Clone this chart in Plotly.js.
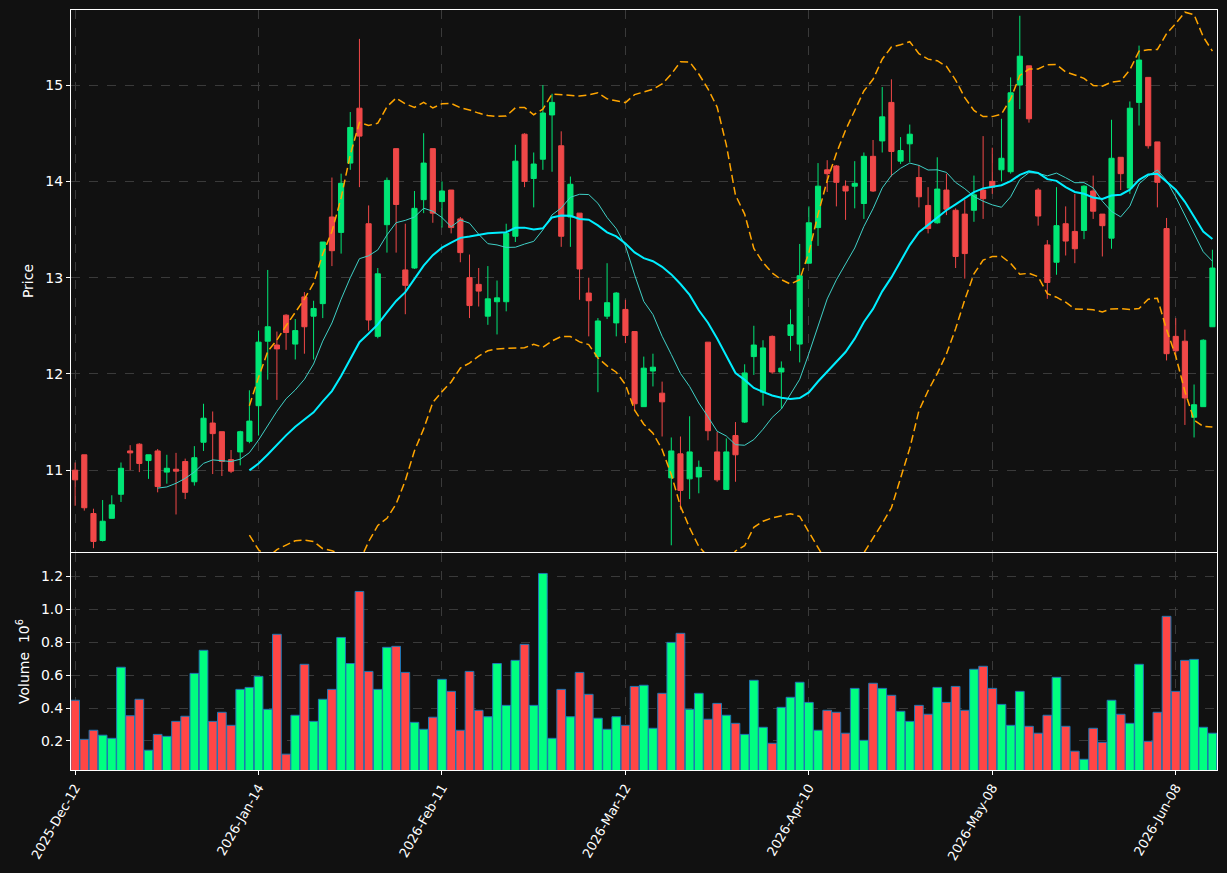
<!DOCTYPE html>
<html>
<head>
<meta charset="utf-8">
<script src="https://cdn.plot.ly/plotly-3.0.1.min.js"></script>
<style>html,body{margin:0;padding:0;background:#111111;}#chart{width:1227px;height:873px;}</style>
</head>
<body>
<div id="chart"></div>
<script>
// Tick labels (every 20 trading sessions)
const tickIdx = [0, 20, 40, 60, 80, 100, 120];
const tickLabels = ["2025-Dec-12", "2026-Jan-14", "2026-Feb-11", "2026-Mar-12", "2026-Apr-10", "2026-May-08", "2026-Jun-08"];

// OHLC values
const openP = [11.00,11.16,10.55,10.27,10.50,10.75,11.20,11.27,11.10,11.20,
 10.98,11.01,11.09,10.88,11.29,11.49,11.40,11.11,11.19,11.30,
 11.67,12.34,12.30,12.61,12.31,12.80,12.60,12.73,13.63,13.47,
 14.19,14.76,13.56,12.39,13.55,14.34,13.08,13.10,13.81,14.34,
 13.79,13.91,13.61,13.00,12.93,12.60,12.75,12.75,13.43,14.49,
 14.03,14.23,14.69,14.37,13.63,13.67,12.84,12.18,12.60,12.53,
 12.67,12.44,11.66,12.03,11.80,10.92,11.17,10.91,10.93,12.33,
 11.19,10.80,11.36,11.50,12.18,11.81,12.39,12.02,12.40,12.31,
 13.15,13.52,14.12,14.16,13.95,13.95,13.77,14.26,14.42,14.82,
 14.21,14.39,14.04,13.75,13.57,13.91,13.70,13.66,13.70,13.91,
 14.00,14.12,14.10,15.00,15.20,13.91,13.34,13.16,13.56,13.48,
 13.49,13.90,13.66,13.41,14.25,13.93,14.82,15.08,14.41,13.51,
 12.39,12.34,11.55,11.66,12.49];
const highP = [11.08,11.16,10.60,10.69,10.74,11.08,11.26,11.28,11.16,11.22,
 11.16,11.18,11.12,11.25,11.69,11.61,11.40,11.21,11.41,11.83,
 12.45,13.08,12.44,12.62,12.57,12.85,12.76,13.37,14.04,14.08,
 14.72,15.48,13.75,13.10,14.04,14.34,13.56,13.90,14.50,14.34,
 14.00,13.91,13.63,13.24,13.10,13.12,12.97,13.56,14.38,14.50,
 14.30,15.00,14.91,14.52,14.05,13.67,13.00,12.58,13.15,12.85,
 12.77,12.44,12.18,12.21,11.92,11.34,11.35,11.56,11.10,12.33,
 11.40,11.33,11.50,12.10,12.50,12.35,12.40,12.13,12.67,13.35,
 13.74,14.19,14.22,14.17,14.01,14.21,14.30,14.43,14.98,15.06,
 14.46,14.59,14.17,13.94,14.25,14.08,13.72,13.81,14.06,14.47,
 14.35,14.65,15.08,15.72,15.20,13.93,13.39,13.94,13.74,13.87,
 13.96,14.06,13.66,14.64,14.25,14.83,15.41,15.08,14.41,13.62,
 12.58,12.46,11.89,12.36,13.29];
const lowP = [10.63,10.58,10.19,10.26,10.50,10.67,11.00,10.98,10.91,10.77,
 10.86,10.54,10.70,10.84,11.20,10.96,10.94,10.97,11.05,11.28,
 11.36,11.94,11.73,12.25,12.15,12.21,12.15,12.58,13.12,13.25,
 14.12,13.94,12.45,12.37,13.26,13.26,12.62,13.09,13.67,13.57,
 13.52,13.46,13.16,12.58,12.70,12.51,12.41,12.65,13.37,13.94,
 13.73,14.12,14.10,13.32,13.32,12.77,12.39,11.81,12.57,12.39,
 12.32,11.62,11.66,11.87,11.35,10.22,10.59,10.70,10.76,11.31,
 10.88,10.80,10.88,11.49,11.99,11.67,12.00,11.64,12.24,12.12,
 13.15,13.33,13.89,13.74,13.60,13.72,13.61,13.89,14.30,14.05,
 14.18,14.20,13.73,13.46,13.56,13.65,13.10,12.99,13.58,13.61,
 13.87,14.00,14.08,14.75,14.61,13.54,12.78,13.03,13.23,13.15,
 13.40,13.61,13.22,13.30,13.91,13.87,14.58,14.34,13.73,12.14,
 12.18,11.47,11.34,11.66,12.49];
const closeP = [10.90,10.61,10.26,10.47,10.64,11.02,11.18,11.07,11.16,10.83,
 11.02,10.99,10.77,11.13,11.54,11.38,11.09,10.99,11.40,11.51,
 12.33,12.49,12.26,12.43,12.45,12.49,12.68,13.37,13.28,13.98,
 14.56,14.47,12.56,13.04,14.01,13.76,12.92,13.72,14.19,13.67,
 13.90,13.52,13.26,12.71,12.86,12.78,12.79,13.46,14.21,14.00,
 14.18,14.71,14.82,13.43,13.97,13.09,12.76,12.55,12.74,12.84,
 12.40,11.69,12.06,12.07,11.71,11.20,10.79,11.19,11.03,11.41,
 10.90,11.19,11.16,12.01,12.30,12.27,12.02,12.06,12.51,13.02,
 13.57,13.95,14.08,13.99,13.90,13.98,14.26,13.90,14.67,14.31,
 14.32,14.49,13.84,13.51,13.92,13.71,13.22,13.25,13.86,13.82,
 13.94,14.24,14.92,15.30,14.65,13.64,12.95,13.54,13.38,13.30,
 13.95,13.69,13.54,14.24,14.08,14.76,15.26,14.37,13.99,12.21,
 12.24,11.75,11.68,12.35,13.10];
// Volume in millions
const volumeM = [0.447,0.21,0.265,0.235,0.216,0.647,0.353,0.453,0.144,0.24,
 0.228,0.319,0.35,0.61,0.75,0.319,0.374,0.295,0.513,0.525,
 0.592,0.392,0.847,0.12,0.356,0.665,0.319,0.453,0.513,0.828,
 0.67,1.107,0.622,0.513,0.768,0.774,0.616,0.313,0.271,0.344,
 0.574,0.501,0.265,0.622,0.386,0.347,0.67,0.416,0.689,0.786,
 0.416,1.216,0.216,0.513,0.347,0.616,0.483,0.338,0.271,0.347,
 0.295,0.531,0.538,0.277,0.489,0.798,0.853,0.392,0.489,0.332,
 0.428,0.356,0.307,0.24,0.568,0.283,0.186,0.404,0.465,0.556,
 0.434,0.265,0.386,0.374,0.247,0.519,0.204,0.55,0.519,0.477,
 0.38,0.319,0.416,0.362,0.525,0.434,0.531,0.386,0.635,0.653,
 0.519,0.422,0.295,0.501,0.289,0.247,0.356,0.586,0.289,0.138,
 0.089,0.277,0.192,0.447,0.362,0.307,0.665,0.198,0.374,0.956,
 0.501,0.689,0.695,0.283,0.247];

const UP = '#00e676', DOWN = '#f04848';
const VUP = '#00ff80', VDOWN = '#ff4646';

const xs = closeP.map((_, i) => i);

function sma(arr, n) {
  return arr.map((_, i) => {
    if (i < n - 1) return null;
    let s = 0; for (let k = i - n + 1; k <= i; k++) s += arr[k];
    return s / n;
  });
}
function rollStd(arr, n) {
  const m = sma(arr, n);
  return arr.map((_, i) => {
    if (i < n - 1) return null;
    let s = 0; for (let k = i - n + 1; k <= i; k++) s += (arr[k] - m[i]) ** 2;
    return Math.sqrt(s / (n - 1));
  });
}
const ma10 = sma(closeP, 10);
const ma20 = sma(closeP, 20);
const sd20 = rollStd(closeP, 20);
const bbUp = ma20.map((m, i) => m === null ? null : m + 2 * sd20[i]);
const bbLo = ma20.map((m, i) => m === null ? null : m - 2 * sd20[i]);

const volColors = closeP.map((c, i) => c >= openP[i] ? VUP : VDOWN);

const traces = [
  {type: 'candlestick', x: xs, open: openP, high: highP, low: lowP, close: closeP,
   xaxis: 'x', yaxis: 'y', whiskerwidth: 0,
   increasing: {line: {color: UP, width: 1}, fillcolor: UP},
   decreasing: {line: {color: DOWN, width: 1}, fillcolor: DOWN},
   showlegend: false, hoverinfo: 'skip'},
  {type: 'scatter', mode: 'lines', x: xs, y: ma10, xaxis: 'x', yaxis: 'y',
   line: {color: '#3fd0c6', width: 1}, showlegend: false, hoverinfo: 'skip'},
  {type: 'scatter', mode: 'lines', x: xs, y: ma20, xaxis: 'x', yaxis: 'y',
   line: {color: '#00eeff', width: 2}, showlegend: false, hoverinfo: 'skip'},
  {type: 'scatter', mode: 'lines', x: xs, y: bbUp, xaxis: 'x', yaxis: 'y',
   line: {color: '#ffa500', width: 1.5, dash: '8px,4px'}, showlegend: false, hoverinfo: 'skip'},
  {type: 'scatter', mode: 'lines', x: xs, y: bbLo, xaxis: 'x', yaxis: 'y',
   line: {color: '#ffa500', width: 1.5, dash: '8px,4px'}, showlegend: false, hoverinfo: 'skip'},
  {type: 'bar', x: xs, y: volumeM, xaxis: 'x2', yaxis: 'y2',
   marker: {color: volColors, line: {color: '#1f77b4', width: 1}},
   showlegend: false, hoverinfo: 'skip'}
];

const FONT = 'DejaVu Sans, sans-serif';
const FS = 14;
const gridCol = '#3a3a3a';
const xRange = [-0.45, 124.5];

const layout = {
  width: 1227, height: 873,
  paper_bgcolor: '#111111', plot_bgcolor: '#111111',
  font: {family: FONT, size: FS, color: '#ffffff'},
  margin: {l: 71, r: 10, t: 10, b: 103},
  showlegend: false,
  bargap: 0.05,
  boxgap: 0.2,
  xaxis: {domain: [0, 1], anchor: 'y', range: xRange, type: 'linear',
    tickvals: tickIdx, ticktext: tickLabels, showticklabels: false, ticks: '',
    showgrid: true, gridcolor: gridCol, griddash: 'dash', gridwidth: 1,
    zeroline: false, showline: true, mirror: true, linecolor: '#ffffff', linewidth: 1,
    rangeslider: {visible: false}},
  yaxis: {domain: [0.2868, 1], anchor: 'x', range: [10.15, 15.78],
    tickvals: [11, 12, 13, 14, 15], ticks: 'outside', ticklen: 4, tickcolor: '#ffffff',
    showgrid: true, gridcolor: gridCol, griddash: 'dash', zeroline: false,
    showline: true, mirror: true, linecolor: '#ffffff', linewidth: 1,
    title: {text: 'Price', font: {family: FONT, size: FS, color: '#ffffff'}, standoff: 8},
    tickfont: {family: FONT, size: FS, color: '#ffffff'}},
  xaxis2: {domain: [0, 1], anchor: 'y2', range: xRange, type: 'linear',
    tickvals: tickIdx, ticktext: tickLabels, tickangle: -60, ticks: 'outside', ticklen: 4,
    tickcolor: '#ffffff', showgrid: true, gridcolor: gridCol, griddash: 'dash',
    zeroline: false, showline: true, mirror: true, linecolor: '#ffffff', linewidth: 1,
    tickfont: {family: FONT, size: 13, color: '#ffffff'}},
  yaxis2: {domain: [0, 0.2855], anchor: 'x2', range: [0.024, 1.34],
    tickvals: [0.2, 0.4, 0.6, 0.8, 1.0, 1.2], ticktext: ['0.2', '0.4', '0.6', '0.8', '1.0', '1.2'],
    ticks: 'outside', ticklen: 4, tickcolor: '#ffffff',
    showgrid: true, gridcolor: gridCol, griddash: 'dash', zeroline: false,
    showline: true, mirror: true, linecolor: '#ffffff', linewidth: 1,
    title: {text: 'Volume  10<sup>6</sup>', font: {family: FONT, size: FS, color: '#ffffff'}, standoff: 8},
    tickfont: {family: FONT, size: FS, color: '#ffffff'}}
};

Plotly.newPlot('chart', traces, layout, {staticPlot: true, displayModeBar: false});
</script>
</body>
</html>
